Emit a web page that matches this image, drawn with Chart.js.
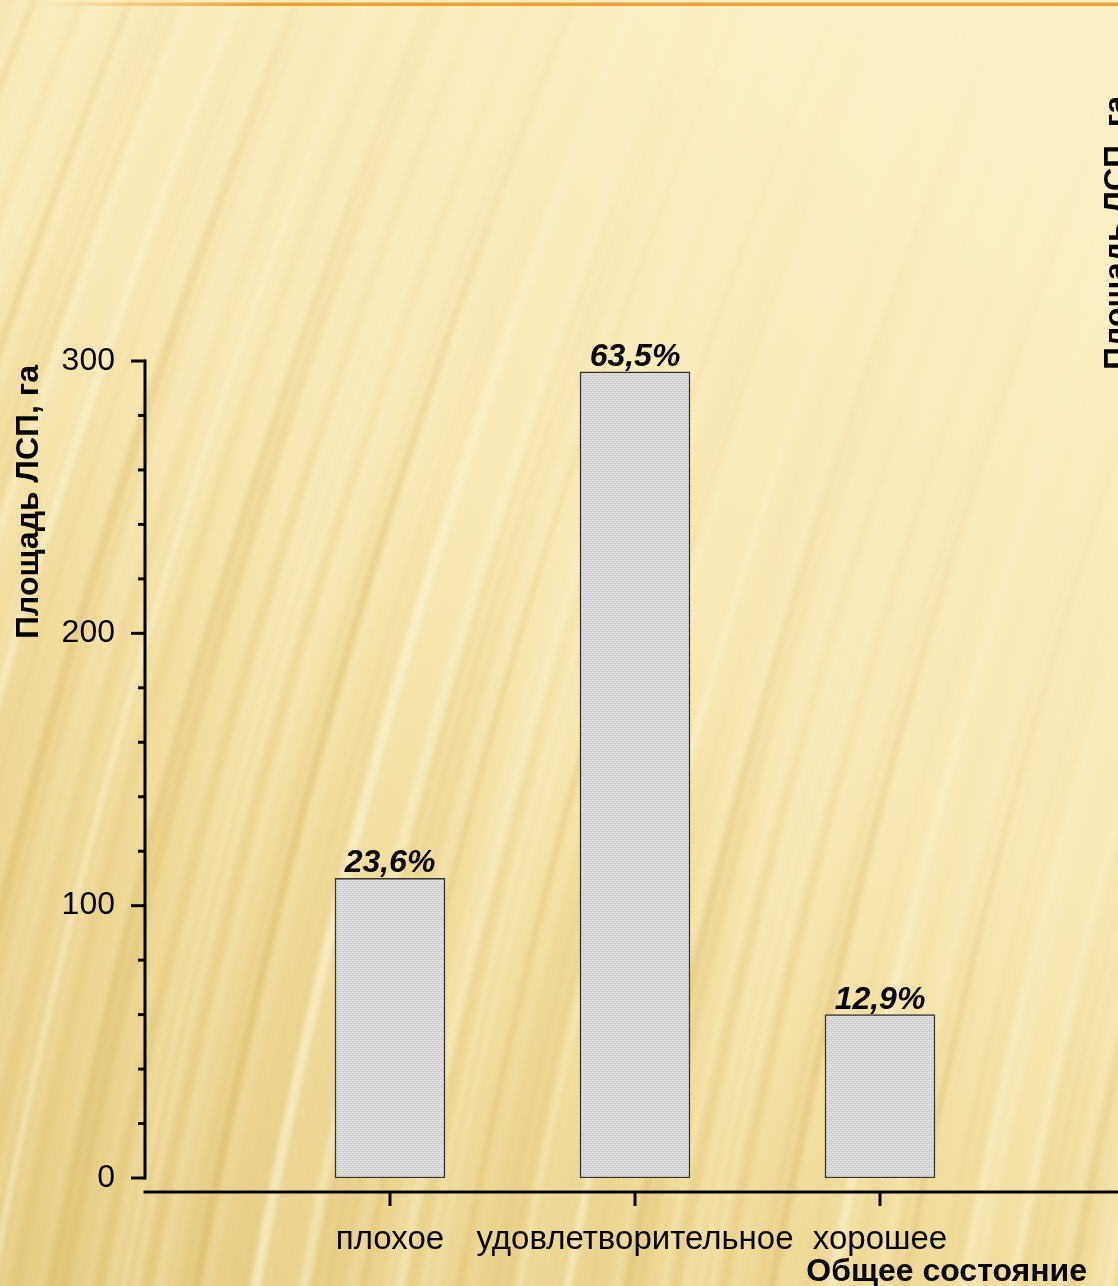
<!DOCTYPE html>
<html><head><meta charset="utf-8">
<script src="https://cdn.jsdelivr.net/npm/chart.js@4"></script>
<style>
html,body{margin:0;padding:0;overflow:hidden;width:1118px;height:1286px;background:#f6e4a8;}
#wrap{position:absolute;left:0;top:0;width:1130px;height:1286px;}
canvas{display:block;}
</style></head><body><div id="wrap"><canvas id="c" width="1130" height="1286"></canvas></div>
<script>
// ---- data ----
const categories = ['', 'плохое', 'удовлетворительное', 'хорошее', ''];
const areaValues = [null, 110, 296, 60, null];
const percentLabels = ['', '23,6%', '63,5%', '12,9%', ''];
const yTicks = [0, 100, 200, 300];
const yMinorStep = 20;
const yTitle = 'Площадь ЛСП, га';
const xTitle = 'Общее состояние';

const FONT = '"Liberation Sans", Arial, sans-serif';
const canvas = document.getElementById('c');
const mainCtx = canvas.getContext('2d');

function makePattern() {
  const p = document.createElement('canvas'); p.width = 4; p.height = 4;
  const c = p.getContext('2d');
  c.fillStyle = '#d5d5d5'; c.fillRect(0, 0, 4, 4);
  c.fillStyle = '#ededed'; c.fillRect(0, 0, 2, 1); c.fillRect(2, 2, 2, 1);
  c.fillStyle = '#bcbcbc'; c.fillRect(1, 1, 1, 1); c.fillRect(3, 3, 1, 1);
  return mainCtx.createPattern(p, 'repeat');
}

function drawBackground(ctx, W, H) {
  const g = ctx.createLinearGradient(0, H, W * 0.75, 0);
  g.addColorStop(0, '#e6cd84');
  g.addColorStop(0.3, '#f0da98');
  g.addColorStop(0.6, '#f9e9b5');
  g.addColorStop(1, '#fdf0c7');
  ctx.fillStyle = g; ctx.fillRect(0, 0, W, H);

  const off = document.createElement('canvas'); off.width = W; off.height = H;
  const o = off.getContext('2d');
  o.filter = 'blur(2.5px)';
  let i = 0;
  for (let bx = -600; bx < 1250; bx += 12, i++) {
    const s = Math.sin(i * 1.7) + 0.8 * Math.sin(i * 0.53 + 1) + 0.5 * Math.sin(i * 3.1 + 2);
    const a = Math.min(1, Math.abs(s) / 2.2);
    if (s > 0) o.strokeStyle = 'rgba(255,250,228,' + (a * 0.6) + ')';
    else o.strokeStyle = 'rgba(200,160,70,' + (a * 0.35) + ')';
    o.lineWidth = 4 + (i % 4) * 2;
    o.beginPath();
    o.moveTo(bx, H + 20);
    o.quadraticCurveTo(bx + 120, H * 0.5, bx + 390, -20);
    o.stroke();
  }
  o.filter = 'none';
  o.globalCompositeOperation = 'destination-in';
  const m = o.createLinearGradient(0, H, W, 0);
  m.addColorStop(0, 'rgba(0,0,0,1)');
  m.addColorStop(0.45, 'rgba(0,0,0,0.9)');
  m.addColorStop(0.72, 'rgba(0,0,0,0.25)');
  m.addColorStop(1, 'rgba(0,0,0,0)');
  o.fillStyle = m; o.fillRect(0, 0, W, H);
  ctx.drawImage(off, 0, 0);

  // top orange rule
  const lg = ctx.createLinearGradient(40, 0, 260, 0);
  lg.addColorStop(0, 'rgba(238,160,50,0)');
  lg.addColorStop(1, 'rgba(238,160,50,1)');
  ctx.fillStyle = lg; ctx.fillRect(40, 3, W, 3);
  const lg2 = ctx.createLinearGradient(40, 0, 260, 0);
  lg2.addColorStop(0, 'rgba(245,200,120,0)');
  lg2.addColorStop(1, 'rgba(245,200,120,1)');
  ctx.fillStyle = lg2; ctx.fillRect(40, 2, W, 1);
}

const decor = {
  id: 'decor',
  beforeDraw(chart) {
    const ctx = chart.ctx;
    ctx.save();
    drawBackground(ctx, chart.width, chart.height);
    ctx.restore();
  },
  afterDatasetsDraw(chart) {
    const ctx = chart.ctx;
    const ys = chart.scales.y, xs = chart.scales.x;
    const ax = chart.chartArea.left;
    const y0 = ys.getPixelForValue(yTicks[0]);
    const yTop = ys.getPixelForValue(yTicks[yTicks.length - 1]);
    ctx.save();
    ctx.strokeStyle = '#000'; ctx.lineWidth = 3; ctx.lineCap = 'butt';
    // y axis
    ctx.beginPath(); ctx.moveTo(ax, yTop - 1.5); ctx.lineTo(ax, y0 + 1.5); ctx.stroke();
    for (let v = yTicks[0]; v <= yTicks[yTicks.length - 1]; v += yMinorStep) {
      const py = ys.getPixelForValue(v);
      const len = yTicks.includes(v) ? 14 : 7;
      ctx.beginPath(); ctx.moveTo(ax - len, py); ctx.lineTo(ax, py); ctx.stroke();
    }
    // x axis (offset below zero)
    const xAxY = y0 + 14;
    ctx.beginPath(); ctx.moveTo(ax - 1.5, xAxY); ctx.lineTo(chart.width, xAxY); ctx.stroke();
    areaValues.forEach((v, i) => {
      if (v === null) return;
      const px = xs.getPixelForValue(i);
      ctx.beginPath(); ctx.moveTo(px, xAxY); ctx.lineTo(px, xAxY + 14); ctx.stroke();
    });
    // percent labels
    const meta = chart.getDatasetMeta(0);
    ctx.fillStyle = '#000';
    ctx.font = 'italic bold 32px ' + FONT;
    ctx.textAlign = 'center'; ctx.textBaseline = 'alphabetic';
    meta.data.forEach((el, i) => {
      if (areaValues[i] === null) return;
      ctx.fillText(percentLabels[i], el.x, el.y - 6);
    });
    // x title
    ctx.font = 'bold 32px ' + FONT;
    ctx.textAlign = 'right';
    ctx.fillText(xTitle, 1087, 1281);
    // y titles (left and clipped right)
    ctx.font = 'bold 32px ' + FONT;
    ctx.textAlign = 'center';
    ctx.save(); ctx.translate(38, 502); ctx.rotate(-Math.PI / 2); ctx.fillText(yTitle, 0, 0); ctx.restore();
    ctx.save(); ctx.translate(1126, 233); ctx.rotate(-Math.PI / 2); ctx.fillText(yTitle, 0, 0); ctx.restore();
    ctx.restore();
  }
};

new Chart(canvas, {
  type: 'bar',
  data: {
    labels: categories,
    datasets: [{
      data: areaValues,
      backgroundColor: makePattern(),
      borderColor: '#333333',
      borderWidth: 1.5,
      borderSkipped: false,
      barThickness: 110
    }]
  },
  options: {
    responsive: false,
    animation: false,
    devicePixelRatio: 1,
    layout: { padding: { top: 361, right: 5, left: 0, bottom: 0 } },
    plugins: { legend: { display: false }, tooltip: { enabled: false }, title: { display: false } },
    scales: {
      x: {
        type: 'category',
        offset: false,
        grid: { display: false, drawTicks: false },
        border: { display: false },
        ticks: {
          autoSkip: false, maxRotation: 0, minRotation: 0,
          color: '#000', font: { family: FONT, size: 33 }, padding: 42
        },
        afterFit(s) { s.height = 108; s.paddingLeft = 0; s.paddingRight = 0; }
      },
      y: {
        min: 0, max: 300,
        grid: { display: false, drawTicks: false },
        border: { display: false },
        ticks: {
          stepSize: 100, color: '#000', font: { family: FONT, size: 32 }, padding: 30
        },
        afterFit(s) { s.width = 145; }
      }
    }
  },
  plugins: [decor]
});
</script></body></html>
